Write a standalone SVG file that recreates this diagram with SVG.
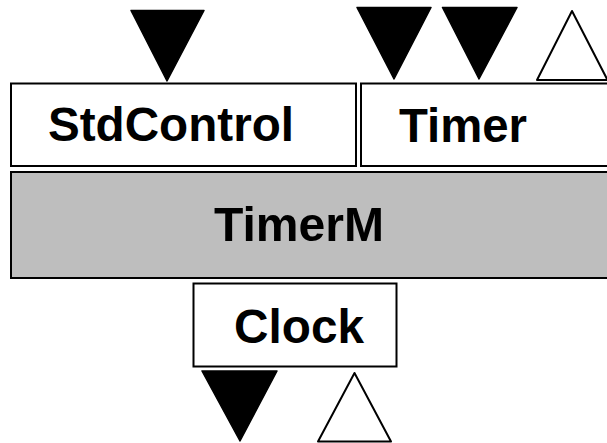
<svg xmlns="http://www.w3.org/2000/svg" width="607" height="443" viewBox="0 0 607 443">
<style>
.box{fill:#fff;stroke:#000;stroke-width:2}
.gray{fill:#bebebe;stroke:#000;stroke-width:2}
.lbl{font-family:"Liberation Sans",Arial,sans-serif;font-weight:bold;font-size:48px;fill:#000}
.in{fill:#000;stroke:#000;stroke-width:1.5;stroke-linejoin:round}
.out{fill:#fff;stroke:#000;stroke-width:2;stroke-linejoin:round}
</style>
<rect width="607" height="443" fill="#fff"/>
<g id="StdControl">
<rect class="box" x="11" y="83.5" width="345" height="82.5"/>
<text class="lbl" x="48" y="141" textLength="246" lengthAdjust="spacingAndGlyphs">StdControl</text>
</g>
<g id="Timer">
<rect class="box" x="361" y="83.5" width="250" height="82.5"/>
<text class="lbl" x="399" y="141.5" textLength="128" lengthAdjust="spacingAndGlyphs">Timer</text>
</g>
<g id="TimerM">
<rect class="gray" x="11" y="172" width="600" height="106"/>
<text class="lbl" x="214" y="240.7" textLength="170" lengthAdjust="spacingAndGlyphs">TimerM</text>
</g>
<g id="Clock">
<rect class="box" x="193.5" y="283.5" width="203" height="83"/>
<text class="lbl" x="234" y="343.3" textLength="130" lengthAdjust="spacingAndGlyphs">Clock</text>
</g>
<g id="connectors">
<polygon class="in" points="131,10.5 204,10.5 167,81"/>
<polygon class="in" points="357,7.5 431,7.5 394,79"/>
<polygon class="in" points="442.5,7.5 517,7.5 479,79"/>
<polygon class="out" points="572,11 607.5,80 537,80"/>
<polygon class="in" points="202,371 277,371 240,441"/>
<polygon class="out" points="354.5,373 391,441.5 318,441.5"/>
</g>
</svg>
